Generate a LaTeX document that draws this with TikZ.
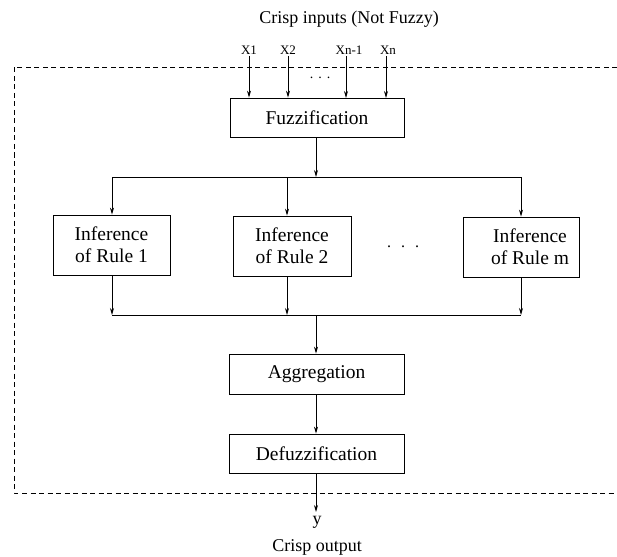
\documentclass[tikz,border=0pt]{standalone}
\usepackage{fontspec}
\setmainfont{Liberation Serif}
\usetikzlibrary{arrows.meta,calc}
\tikzset{
  blockbox/.style={draw=black, line width=0.8pt, align=center, inner sep=0pt, font=\fontsize{19.5}{22}\selectfont},
  btext/.style={align=center, inner sep=0pt, font=\fontsize{19.5}{22}\selectfont},
  lbl/.style={inner sep=1pt, font=\fontsize{18}{21}\selectfont},
  inlbl/.style={inner sep=1pt, font=\fontsize{13}{15}\selectfont},
  arr/.style={line width=0.8pt, -{Stealth[length=7pt,width=4pt]}},
  ln/.style={line width=0.8pt},
  frame/.style={line width=0.7pt, dash pattern=on 5pt off 3.5pt}
}
\begin{document}
\begin{tikzpicture}[x=1pt,y=-1pt]
\useasboundingbox (0,0) rectangle (617,556);
% dashed frame
\draw[frame] (617,67) -- (14,67) -- (14,493) -- (617,493);
% title
\node[lbl] (title) at (349,19) {Crisp inputs (Not Fuzzy)};
% inputs
\node[inlbl, anchor=south] (x1) at (249,56) {X1};
\node[inlbl, anchor=south] (x2) at (288,56) {X2};
\node[inlbl, anchor=south] (xn1) at (349,56) {Xn-1};
\node[inlbl, anchor=south] (xn) at (388,56) {Xn};
\node[lbl, font=\fontsize{14}{16}\selectfont] (dots1) at (320,78) {.\hspace{5pt}.\hspace{5pt}.};
% boxes
\node[blockbox, minimum width=174pt, minimum height=39pt] (fuzz) at (317,117.5) {Fuzzification};
\node[blockbox, minimum width=117pt, minimum height=60pt] (r1) at (111.5,245) {Inference\\of Rule 1};
\node[blockbox, minimum width=118pt, minimum height=60pt] (r2) at (292,246) {Inference\\of Rule 2};
\node[blockbox, minimum width=116pt, minimum height=60pt] (rm) at (521,247) {};
\node[btext] (rmtext) at (530,247) {Inference\\of Rule m};
\node[lbl, font=\fontsize{16}{18}\selectfont] (dots2) at (403,247) {.\hspace{10pt}.\hspace{10pt}.};
\node[blockbox, minimum width=175pt, minimum height=40pt] (agg) at (316.5,374) {Aggregation};
\node[blockbox, minimum width=175pt, minimum height=39pt] (defuzz) at (316.5,453.5) {Defuzzification};
% output labels
\node[lbl] (y) at (317,522) {y};
\node[lbl] (out) at (317,547) {Crisp output};
% coordinates
\coordinate (split) at (316,177);
\coordinate (sL) at (112,177);
\coordinate (sR) at (521,177);
\coordinate (s2) at (287,177);
\coordinate (merge) at (316,315);
\coordinate (mL) at (112,315);
\coordinate (mR) at (521,315);
\coordinate (m2) at (287,315);
\coordinate (yend) at (316,512);
% input arrows
\draw[arr] (x1.south) -- (x1.south |- fuzz.north);
\draw[arr] (x2.south) -- (x2.south |- fuzz.north);
\draw[arr] (346,56) -- (346,98);
\draw[arr] (386,56) -- (386,98);
% split
\draw[arr] (fuzz.south -| split) -- (split);
\draw[ln] (sL) -- (sR);
\draw[arr] (sL) -- (sL |- r1.north);
\draw[arr] (s2) -- (s2 |- r2.north);
\draw[arr] (sR) -- (sR |- rm.north);
% merge
\draw[arr] (mL |- r1.south) -- (mL);
\draw[arr] (m2 |- r2.south) -- (m2);
\draw[arr] (mR |- rm.south) -- (mR);
\draw[ln] (mL) -- (mR);
\draw[arr] (merge) -- (merge |- agg.north);
\draw[arr] (agg.south -| merge) -- (defuzz.north -| merge);
\draw[arr] (defuzz.south -| merge) -- (yend);
\end{tikzpicture}
\end{document}
